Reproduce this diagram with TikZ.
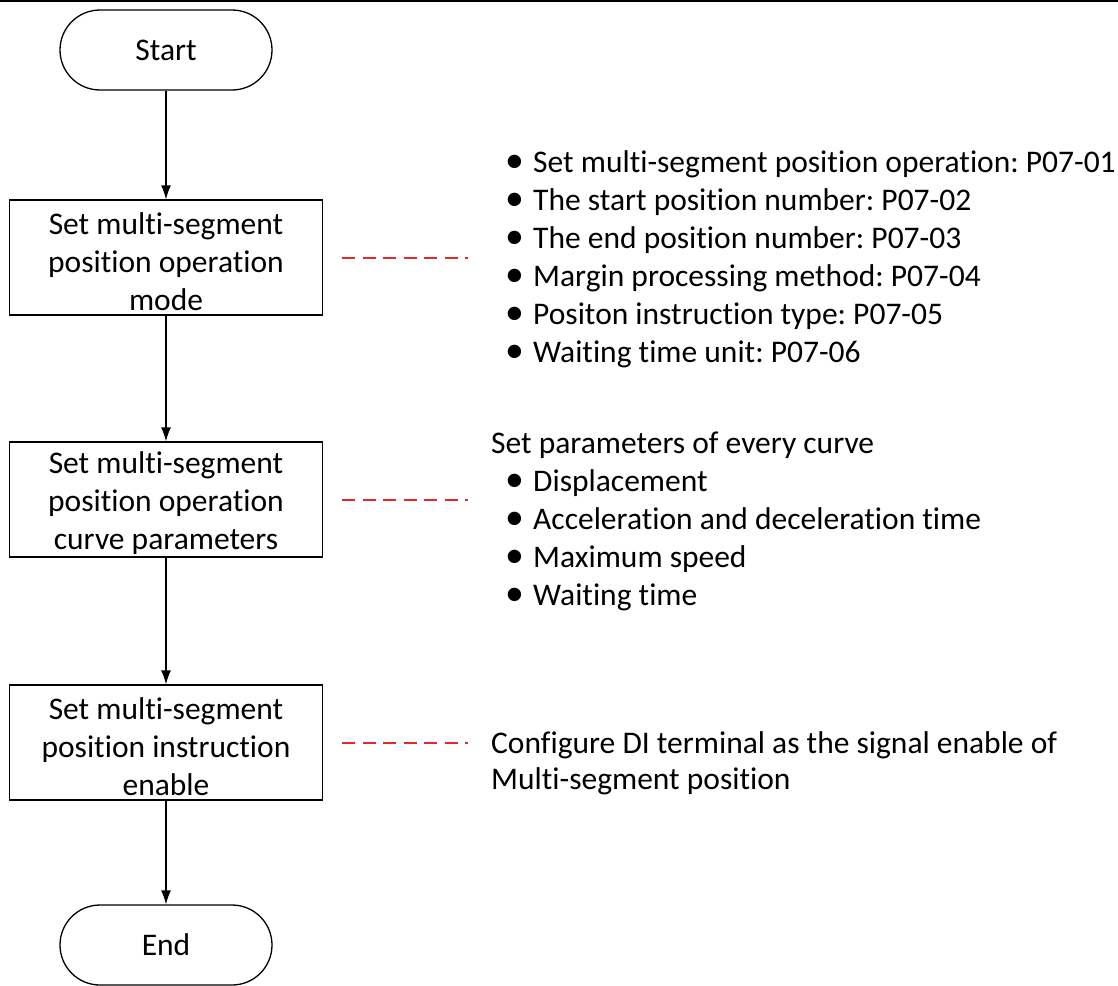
\documentclass[tikz,border=0pt]{standalone}
\usepackage{fontspec}
\setmainfont[Ligatures=NoCommon]{Carlito}
\usetikzlibrary{arrows.meta}
\definecolor{dashred}{RGB}{230,40,40}
\tikzset{
  every node/.style={font=\fontsize{31.5pt}{38pt}\selectfont\frenchspacing},
  proc/.style={draw, line width=1.3pt, minimum width=313pt, minimum height=115pt, inner sep=0pt},
  boxtxt/.style={align=center, inner sep=0pt},
  term/.style={draw, line width=1.3pt, minimum width=212pt, minimum height=80pt, rounded corners=40pt, inner sep=0pt},
  flow/.style={line width=1.3pt, -{Latex[length=14pt,width=10pt]}},
  note/.style={dashred, line width=2pt, dash pattern=on 13pt off 7.5pt},
  txt/.style={anchor=base west, inner sep=0pt},
}
\newcommand{\bul}{\makebox[28pt][l]{\raisebox{-0.6pt}{\scalebox{1.2}{\textbullet}}}}
\begin{document}
\begin{tikzpicture}[x=1pt,y=-1pt]
\useasboundingbox (0,0) rectangle (1118,985);
\draw[line width=2pt] (0,1) -- (1118,1);
\node[term] (start) at (166,50) {Start};
\node[proc] (b1) at (166,257.5) {};
\node[proc] (b2) at (166,499.5) {};
\node[proc] (b3) at (166,742.5) {};
\node[boxtxt] (b1t) at ([yshift=-4pt]b1.center) {Set multi-segment\\position operation\\mode};
\node[boxtxt] (b2t) at ([yshift=-4pt]b2.center) {Set multi-segment\\position operation\\curve parameters};
\node[boxtxt] (b3t) at ([yshift=-4pt]b3.center) {Set multi-segment\\position instruction\\enable};
\node[term] (end) at (166,945) {End};
\draw[flow] (start) -- (b1);
\draw[flow] (b1) -- (b2);
\draw[flow] (b2) -- (b3);
\draw[flow] (b3) -- (end);
\node[txt] (a1) at (505,172) {\bul Set multi-segment position operation: P07-01};
\node[txt] (a2) at (505,210) {\bul The start position number: P07-02};
\node[txt] (a3) at (505,248) {\bul The end position number: P07-03};
\node[txt] (a4) at (505,286) {\bul Margin processing method: P07-04};
\node[txt] (a5) at (505,324) {\bul Positon instruction type: P07-05};
\node[txt] (a6) at (505,362) {\bul Waiting time unit: P07-06};
\node[txt] (c0) at (491,453) {Set parameters of every curve};
\node[txt] (c1) at (505,491) {\bul Displacement};
\node[txt] (c2) at (505,529) {\bul Acceleration and deceleration time};
\node[txt] (c3) at (505,567) {\bul Maximum speed};
\node[txt] (c4) at (505,605) {\bul Waiting time};
\node[txt] (d1) at (491,753) {Configure DI terminal as the signal enable of};
\node[txt] (d2) at (491,789) {Multi-segment position};
\draw[note] ([xshift=19pt]b1.east) -- ([xshift=145pt]b1.east);
\draw[note] ([xshift=19pt]b2.east) -- ([xshift=145pt]b2.east);
\draw[note] ([xshift=19pt]b3.east) -- ([xshift=145pt]b3.east);
\end{tikzpicture}
\end{document}
